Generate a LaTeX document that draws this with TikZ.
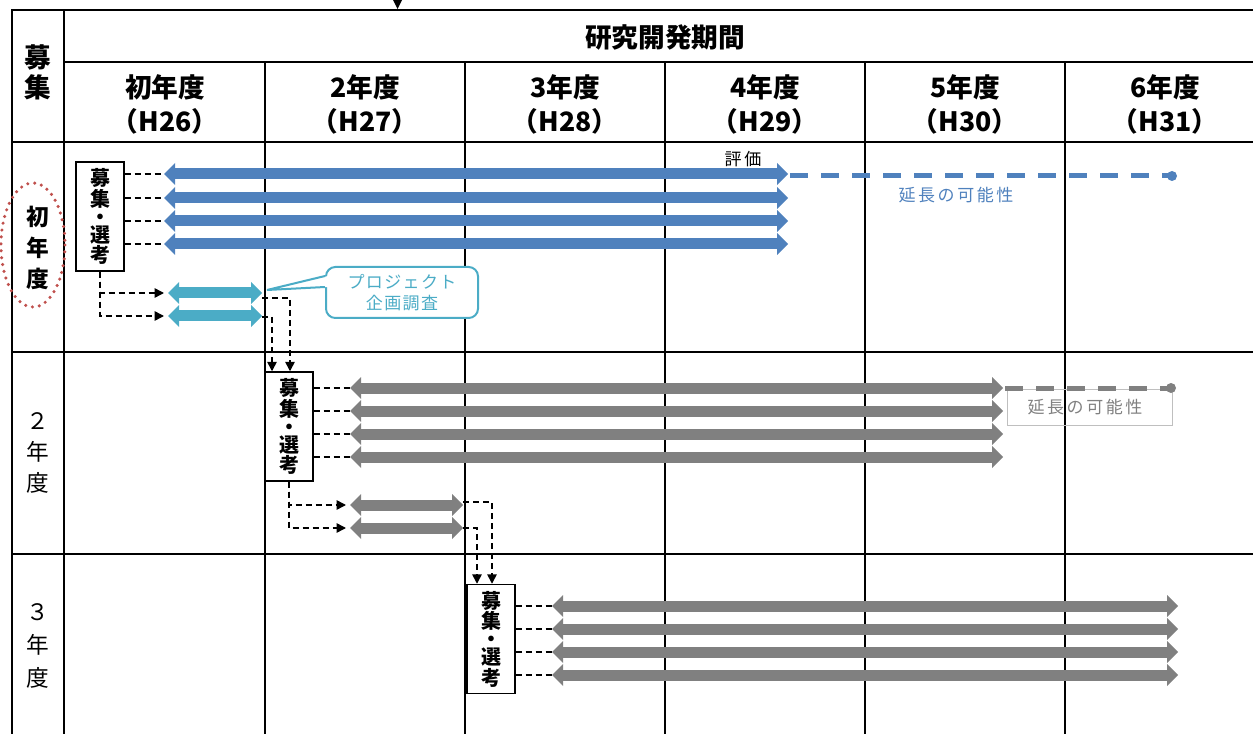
\documentclass[tikz,border=0pt]{standalone}
\usepackage{fontspec}
\setmainfont{Noto Sans CJK JP}
\newfontfamily\spaced{Noto Sans CJK JP}[LetterSpace=15]
\newfontfamily\spacedb{Noto Sans CJK JP}[LetterSpace=8]
\usetikzlibrary{arrows.meta,calc}
\definecolor{cblue}{HTML}{4F81BD}
\definecolor{clight}{HTML}{4BACC6}
\definecolor{cgray}{HTML}{808080}
\definecolor{cred}{HTML}{C0504D}
\definecolor{cborder}{HTML}{BFBFBF}
\begin{document}
\begin{tikzpicture}[x=0.75pt,y=-0.75pt,
  gridline/.style={line width=1.5pt, line cap=rect},
  hd/.style={font=\fontsize{20}{22.5}\selectfont\bfseries, inner sep=0pt, align=center},
  rowlab/.style={font=\fontsize{17}{23}\selectfont\bfseries, align=center, inner sep=0pt},
  selbox/.style={draw, line width=1.1pt, minimum width=36pt, minimum height=81.75pt, inner sep=0pt, align=center, font=\fontsize{15}{13.6}\selectfont\bfseries},
  bar/.style={line width=8.25pt, >={Triangle[length=8.25pt,width=16.5pt,line width=0pt]}, <->},
  bluebar/.style={bar, draw=cblue},
  lightbar/.style={bar, draw=clight},
  graybar/.style={bar, draw=cgray},
  conn/.style={line width=1.1pt, dash pattern=on 4.5pt off 3pt},
  connarrow/.style={conn, -{Triangle[length=7pt,width=7pt]}},
  ext/.style={line width=3.75pt, dash pattern=on 13.5pt off 9.75pt},
  note/.style={font=\spaced\fontsize{12.75}{15.75}\selectfont, inner sep=0pt, align=center},
]
\useasboundingbox (0,0) rectangle (1253,734);

% ---------- grid ----------
\draw[gridline] (12,10) -- (1253,10);
\draw[gridline] (64,62) -- (1253,62);
\foreach \y in {142,352,554} \draw[gridline] (12,\y) -- (1253,\y);
\draw[gridline] (12,10) -- (12,734);
\draw[gridline] (64,10) -- (64,734);
\foreach \x in {265,465,665,865,1065} \draw[gridline] (\x,62) -- (\x,734);
\fill (393,0) -- (402,0) -- (397.5,9) -- cycle;

% ---------- headers ----------
\node[hd] (title) at (665,37) {研究開発期間};
\node[hd] (boshu) at (38,72) {募\\集};
\foreach \x/\a/\b [count=\i] in {165/初年度/H26, 365/2年度/H27, 565/3年度/H28, 765/4年度/H29, 965/5年度/H30, 1165/6年度/H31}{
  \node[hd] (yr\i) at (\x,87.5) {\a};
  \node[hd] (hh\i) at (\x,121) {（\b）};
}

% ---------- row labels ----------
\node[rowlab] (r1) at (38,248) {初\\年\\度};
\node[rowlab, font=\fontsize{17}{23.25}\selectfont] (r2) at (38,453) {２\\年\\度};
\node[rowlab, font=\fontsize{17}{24.75}\selectfont] (r3) at (38,646) {３\\年\\度};
\draw[cred, line width=2.6pt, line cap=round, dash pattern=on 0pt off 5.2pt] (33,245) ellipse [x radius=32, y radius=62];

% ---------- year 1 ----------
\node[selbox] (box1) at (100,216.5) {募\\集\\・\\選\\考};
\foreach \y [count=\i] in {174,198,221,244}{
  \coordinate (a\i L) at (164,\y);
  \coordinate (a\i R) at (788,\y);
  \draw[bluebar] (a\i L) -- (a\i R);
  \draw[conn] (box1.east |- a\i L) -- (a\i L);
}
\coordinate (p1L) at (168,293); \coordinate (p1R) at (262,293);
\coordinate (p2L) at (168,316); \coordinate (p2R) at (262,316);
\draw[lightbar] (p1L) -- (p1R);
\draw[lightbar] (p2L) -- (p2R);
\draw[connarrow, shorten >=3pt] (box1.south) |- (p1L);
\draw[connarrow, shorten >=3pt] (box1.south) |- (p2L);

\coordinate (x1) at (1172,176);
\draw[ext, cblue] (790,176) -- (x1);
\fill[cblue] (x1) circle (3.75pt);
\node[note] (hyoka) at (743,159) {評価};
\node[note, text=cblue] (ext1) at (956,195) {延長の可能性};

% callout
\node[draw=clight, line width=1.5pt, rounded corners=7pt, fill=white, minimum width=114pt, minimum height=38.25pt, text=clight, note, font=\spacedb\fontsize{12.75}{15.75}\selectfont] (callout) at (402,292.5) {プロジェクト\\企画調査};
\coordinate (ctip) at (267,290);
\fill[white] ($(callout.west)+(3,-16.5)$) -- (ctip) -- ($(callout.west)+(3,-5.5)$) -- cycle;
\draw[clight, line width=1.5pt] ($(callout.west)+(0,-16.5)$) -- (ctip) -- ($(callout.west)+(0,-5.5)$);

% ---------- year 2 ----------
\node[selbox] (box2) at (289,426.5) {募\\集\\・\\選\\考};
\draw[connarrow] ($(p1R)+(0,5)$) -| ($(box2.north)+(1,0)$);
\draw[connarrow] ($(p2R)+(0,1)$) -| ($(box2.north)+(-17,0)$);
\foreach \y [count=\i] in {388,411,434,457}{
  \coordinate (b\i L) at (350,\y);
  \coordinate (b\i R) at (1003,\y);
  \draw[graybar] (b\i L) -- (b\i R);
  \draw[conn] (box2.east |- b\i L) -- (b\i L);
}
\coordinate (q1L) at (350,505); \coordinate (q1R) at (463,505);
\coordinate (q2L) at (350,528); \coordinate (q2R) at (463,528);
\draw[graybar] (q1L) -- (q1R);
\draw[graybar] (q2L) -- (q2R);
\draw[connarrow, shorten >=3pt] (box2.south) |- (q1L);
\draw[connarrow, shorten >=3pt] (box2.south) |- (q2L);

\node[draw=cborder, line width=0.75pt, minimum width=123.75pt, minimum height=27pt, inner sep=0pt] (ext2) at (1089.5,407) {};
\node[note, text=cgray] (ext2t) at (1085,407) {延長の可能性};
\coordinate (x2) at (1171,388);
\draw[ext, cgray] (1005,388) -- (x2);
\fill[cgray] (x2) circle (3.75pt);

% ---------- year 3 ----------
\node[selbox] (box3) at (491,639) {募\\集\\・\\選\\考};
\draw[connarrow] ($(q1R)+(0,-3)$) -| ($(box3.north)+(1,0)$);
\draw[connarrow] (q2R) -| ($(box3.north)+(-14,0)$);
\foreach \y [count=\i] in {606,629,652,675}{
  \coordinate (c\i L) at (552,\y);
  \coordinate (c\i R) at (1178,\y);
  \draw[graybar] (c\i L) -- (c\i R);
  \draw[conn] (box3.east |- c\i L) -- (c\i L);
}
\end{tikzpicture}
\end{document}
